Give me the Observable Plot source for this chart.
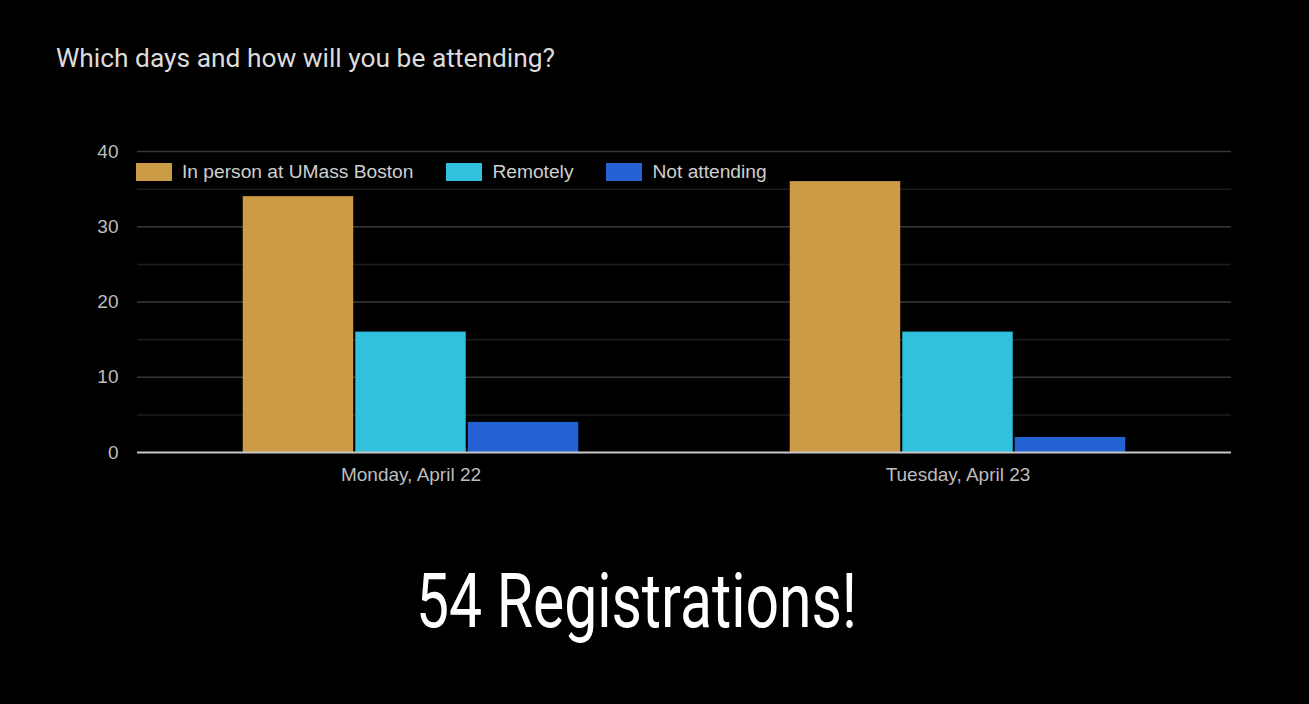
<!DOCTYPE html>
<html>
<head>
<meta charset="utf-8">
<script src="https://cdn.jsdelivr.net/npm/d3@7"></script>
<script src="https://cdn.jsdelivr.net/npm/@observablehq/plot@0.6"></script>
<style>
  html, body { margin: 0; padding: 0; background: #000; width: 1309px; height: 704px; overflow: hidden; }
  #wrap { position: relative; width: 1309px; height: 704px; }
  #title { position: absolute; left: 56px; top: 45px; font-family: Roboto, sans-serif; font-size: 26.4px; line-height: 1; color: #dcdcdc; white-space: nowrap; transform-origin: 0 0; }
  #chart { position: absolute; left: 0; top: 0; }
  #legend { position: absolute; left: 136px; top: 163px; height: 18px; display: flex; align-items: center; font-family: "Liberation Sans", Arial, sans-serif; font-size: 19.2px; color: #cfcfcf; }
  #legend .item { display: flex; align-items: center; margin-right: 33px; }
  #legend .sw { width: 36px; height: 18px; margin-right: 10px; box-sizing: border-box; }
  #big { position: absolute; left: 416px; top: 563px; font-family: Roboto, sans-serif; font-weight: 400; font-size: 76px; color: #fff; white-space: nowrap; transform-origin: 0 0; line-height: 1; }
</style>
</head>
<body>
<div id="wrap">
  <div id="chart"></div>
  <div id="title">Which days and how will you be attending?</div>
  <div id="legend"></div>
  <div id="big">54 Registrations!</div>
</div>
<script>
const days = ["Monday, April 22", "Tuesday, April 23"];
const series = ["In person at UMass Boston", "Remotely", "Not attending"];
const colors = ["#cc9b46", "#31c0de", "#2462d3"];
const mondayValues = [34, 16, 4];
const tuesdayValues = [36, 16, 2];
const yTicks = [0, 10, 20, 30, 40];
const minorTicks = [5, 15, 25, 35];

const valuesByDay = [mondayValues, tuesdayValues];
const data = days.flatMap((d, i) => series.map((s, j) => ({day: d, series: s, value: valuesByDay[i][j]})));

const chart = Plot.plot({
  width: 1309,
  height: 500,
  marginLeft: 136,
  marginRight: 78,
  marginTop: 151,
  marginBottom: 48,
  style: {background: "transparent", color: "#bdbdbd", fontSize: "19px", fontFamily: "'Liberation Sans', Arial, sans-serif"},
  facet: {data, x: "day"},
  fx: {domain: days, padding: 0, label: null, tickSize: 0, tickPadding: 15, axis: "bottom"},
  x: {domain: series, axis: null, paddingInner: 0.018, paddingOuter: 0.94, round: false},
  y: {domain: [0, 40], ticks: yTicks, tickSize: 0, tickPadding: 19, label: null},
  color: {domain: series, range: colors},
  marks: [
    Plot.ruleY(minorTicks, {stroke: "#1c1c1c", strokeWidth: 1.5}),
    Plot.ruleY(yTicks.filter(t => t > 0), {stroke: "#383838", strokeWidth: 1.5}),
    Plot.barY(data, {x: "series", y: "value", fill: "series"}),
    Plot.ruleY([0], {stroke: "#c8c8c8", strokeWidth: 2})
  ]
});
document.getElementById("chart").appendChild(chart);

const legend = document.getElementById("legend");
series.forEach((s, i) => {
  const item = document.createElement("div");
  item.className = "item";
  const sw = document.createElement("div");
  sw.className = "sw";
  sw.style.background = colors[i];
  const label = document.createElement("span");
  label.textContent = s;
  item.appendChild(sw);
  item.appendChild(label);
  legend.appendChild(item);
});

function fitWidth(id, target) {
  const el = document.getElementById(id);
  const w = el.getBoundingClientRect().width;
  el.style.transform = `scaleX(${target / w})`;
}
fitWidth("title", 499);
fitWidth("big", 441);
</script>
</body>
</html>
